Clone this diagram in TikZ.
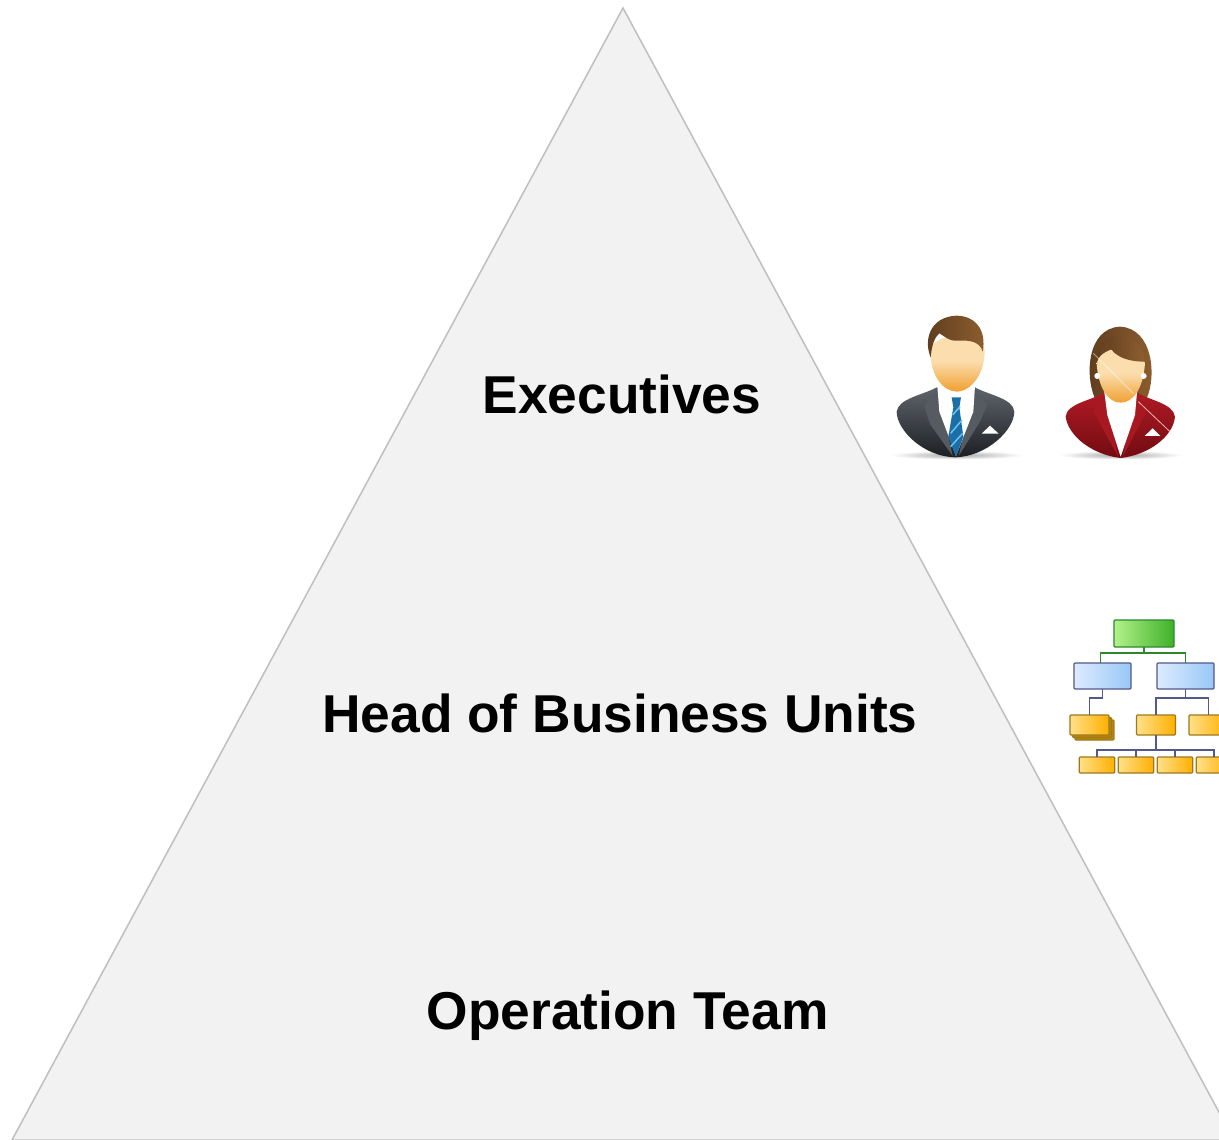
\documentclass[tikz,border=0pt]{standalone}
\usepackage{fontspec}
\setmainfont{Liberation Sans}
\usetikzlibrary{positioning}
\definecolor{pyramidfill}{HTML}{F2F2F2}
\definecolor{pyramidline}{HTML}{BFBFBF}
\definecolor{suittop}{HTML}{5F646B}
\definecolor{suitlow}{HTML}{1C2024}
\definecolor{lapelgray}{HTML}{565B61}
\definecolor{tieblue}{HTML}{1A6FA8}
\definecolor{tielight}{HTML}{6FC0E8}
\definecolor{skinlight}{HTML}{FBDDAE}
\definecolor{skindark}{HTML}{F0A030}
\definecolor{hairdark}{HTML}{5E3B1E}
\definecolor{hairlight}{HTML}{8E5F30}
\definecolor{jackettop}{HTML}{B01A24}
\definecolor{jacketlow}{HTML}{720C12}
\definecolor{lapelred}{HTML}{A81820}
\definecolor{greenlight}{HTML}{B2F28A}
\definecolor{greendark}{HTML}{3FB02A}
\definecolor{greenedge}{HTML}{2A8A2A}
\definecolor{bluelight}{HTML}{DCEBFF}
\definecolor{bluedark}{HTML}{98C8F6}
\definecolor{blueedge}{HTML}{55588C}
\definecolor{orangelight}{HTML}{FFE08A}
\definecolor{orangedark}{HTML}{FFB000}
\definecolor{orangeedge}{HTML}{9C7A1C}
\definecolor{orangeback}{HTML}{B8860B}
\tikzstyle{level} = [font=\fontsize{53.3}{60}\selectfont\bfseries, text=black, inner sep=0pt]
\tikzstyle{chartbox} = [rectangle, rounded corners=1pt, line width=1.3pt, inner sep=0pt, outer sep=0pt, shading angle=135]
\tikzstyle{greenbox} = [chartbox, draw=greenedge, left color=greenlight, right color=greendark, minimum width=60pt, minimum height=27pt]
\tikzstyle{bluebox} = [chartbox, draw=blueedge, left color=bluelight, right color=bluedark, minimum width=57pt, minimum height=26pt]
\tikzstyle{orangebox} = [chartbox, draw=orangeedge, left color=orangelight, right color=orangedark, minimum width=39pt, minimum height=20pt]
\tikzstyle{lowbox} = [orangebox, minimum width=35.5pt, minimum height=16pt]
\tikzstyle{backbox} = [orangebox, left color=orangeback, right color=orangeback]
\tikzstyle{greenline} = [line width=1.2pt, draw=greenedge]
\tikzstyle{blueline} = [line width=1.2pt, draw=blueedge]
\tikzstyle{ground} = [inner color=black!35, outer color=white, draw=none]
\tikzstyle{skin} = [top color=skinlight, bottom color=skindark, middle color=skinlight]
\tikzstyle{hair} = [left color=hairdark, right color=hairlight]
\begin{document}
\begin{tikzpicture}[x=1pt, y=-1pt, node distance=39pt]
	\clip (0,0) rectangle (1219,1140);
	% Pyramid
	\fill [white] (0,0) rectangle (1219,1140);
	\draw [fill=pyramidfill, draw=pyramidline, line width=1.5pt] (623,8) -- (1234,1140) -- (12,1140) -- cycle;
	% Labels
	\node (executives) [level] at (622,394) {Executives};
	\node (heads) [level, below of=executives, yshift=-280pt, xshift=-2pt] {Head of Business Units};
	\node (team) [level, below of=heads, yshift=-264pt, xshift=7.5pt] {Operation Team};
	% Chart nodes
	\node (top) [greenbox] at (1144,633.5) {};
	\node (unita) [bluebox] at (1102.5,676) {};
	\node (unitb) [bluebox] at (1185.5,676) {};
	\node (stackc) [backbox] at (1094.5,730) {};
	\node (stackb) [backbox] at (1092,727.5) {};
	\node (stack) [orangebox] at (1089.5,725) {};
	\node (mid) [orangebox] at (1156,725) {};
	\node (side) [orangebox] at (1208.5,725) {};
	\node (lowa) [lowbox] at (1097,765) {};
	\node (lowb) [lowbox, right of=lowa] {};
	\node (lowc) [lowbox, right of=lowb] {};
	\node (lowd) [lowbox, right of=lowc] {};
	% Chart lines
	\coordinate (topbus) at (1144,653);
	\coordinate (unitabus) at (1102.5,698);
	\coordinate (unitbbus) at (1185.5,698);
	\coordinate (midbus) at (1156,750);
	\draw [greenline] (top.south) -- (topbus) -| ([xshift=-2pt]unita.north);
	\draw [greenline] (topbus) -| (unitb.north);
	\draw [blueline] (unita.south) -- (unitabus) -| (stack.north);
	\draw [blueline] (unitb.south) -- (unitbbus) -| (mid.north);
	\draw [blueline] (unitbbus) -| (side.north);
	\draw [blueline] (mid.south) -- (midbus) -| (lowa.north);
	\draw [blueline] (midbus) -| (lowb.north);
	\draw [blueline] (midbus) -| (lowc.north);
	\draw [blueline] (midbus) -| (lowd.north);
	% Man
	\begin{scope}[shift={(880,300)}, x=0.3333pt, y=-0.3333pt]
		\shade [ground] (230,465) ellipse (200 and 13);
		\shade [top color=suittop, bottom color=suitlow] (170,262) .. controls (130,285) and (55,295) .. (50,335) .. controls (50,390) and (130,470) .. (225,472) .. controls (320,470) and (403,390) .. (403,335) .. controls (400,295) and (325,285) .. (285,262) -- cycle;
		\fill [lapelgray] (172,262) -- (133,320) -- (150,372) -- (218,468) -- cycle;
		\fill [lapelgray] (283,262) -- (322,312) -- (300,365) -- (236,468) -- cycle;
		\fill [white] (172,258) -- (285,258) -- (280,335) -- (228,468) -- (178,335) -- cycle;
		\fill [tieblue] (215,292) -- (243,292) -- (238,322) -- (250,410) -- (228,470) -- (205,410) -- (220,322) -- cycle;
		\draw [tielight, line width=1.5pt] (218,345) -- (240,320) (212,400) -- (246,360) (212,440) -- (248,400);
		\fill [white] (305,401) -- (330,377) -- (356,401) -- cycle;
		\shade [skin] (150,150) .. controls (152,230) and (190,275) .. (232,275) .. controls (275,272) and (315,220) .. (314,150) .. controls (300,100) and (170,90) .. (150,150) -- cycle;
		\shade [hair] (152,172) .. controls (130,120) and (150,50) .. (230,47) .. controls (290,48) and (320,95) .. (308,155) .. controls (300,125) and (270,120) .. (235,122) .. controls (205,125) and (190,105) .. (178,100) .. controls (165,110) and (155,135) .. (152,172) -- cycle;
	\end{scope}
	% Woman
	\begin{scope}[shift={(880,300)}, x=0.3333pt, y=-0.3333pt]
		\shade [ground] (722,465) ellipse (185 and 13);
		\shade [hair] (645,295) .. controls (615,230) and (620,85) .. (720,80) .. controls (820,85) and (830,230) .. (800,295) -- cycle;
		\shade [top color=jackettop, bottom color=jacketlow] (672,278) .. controls (640,300) and (560,310) .. (557,350) .. controls (565,410) and (640,465) .. (722,474) .. controls (805,465) and (880,410) .. (885,350) .. controls (880,310) and (805,300) .. (772,278) -- cycle;
		\fill [lapelred] (672,278) -- (640,335) -- (715,470) -- cycle;
		\fill [lapelred] (772,278) -- (800,335) -- (728,470) -- cycle;
		\fill [white] (672,268) -- (772,268) -- (765,345) -- (722,470) -- (682,345) -- cycle;
		\shade [skin] (650,190) .. controls (655,265) and (685,308) .. (722,308) .. controls (760,308) and (790,265) .. (795,190) .. controls (780,130) and (665,130) .. (650,190) -- cycle;
		\shade [hair] (652,195) .. controls (650,165) and (665,140) .. (680,118) .. controls (690,165) and (735,185) .. (795,185) .. controls (790,140) and (760,105) .. (720,105) .. controls (680,105) and (650,140) .. (652,195) -- cycle;
		\fill [white] (652,228) circle (9);
		\fill [white] (791,228) circle (9);
		\fill [white] (794,408) -- (818,385) -- (841,408) -- cycle;
		\draw [red!30!white, line width=0.8pt] (775,305) -- (870,395);
		\draw [white, opacity=0.5, line width=0.8pt] (640,160) -- (760,280);
	\end{scope}
\end{tikzpicture}
\end{document}
